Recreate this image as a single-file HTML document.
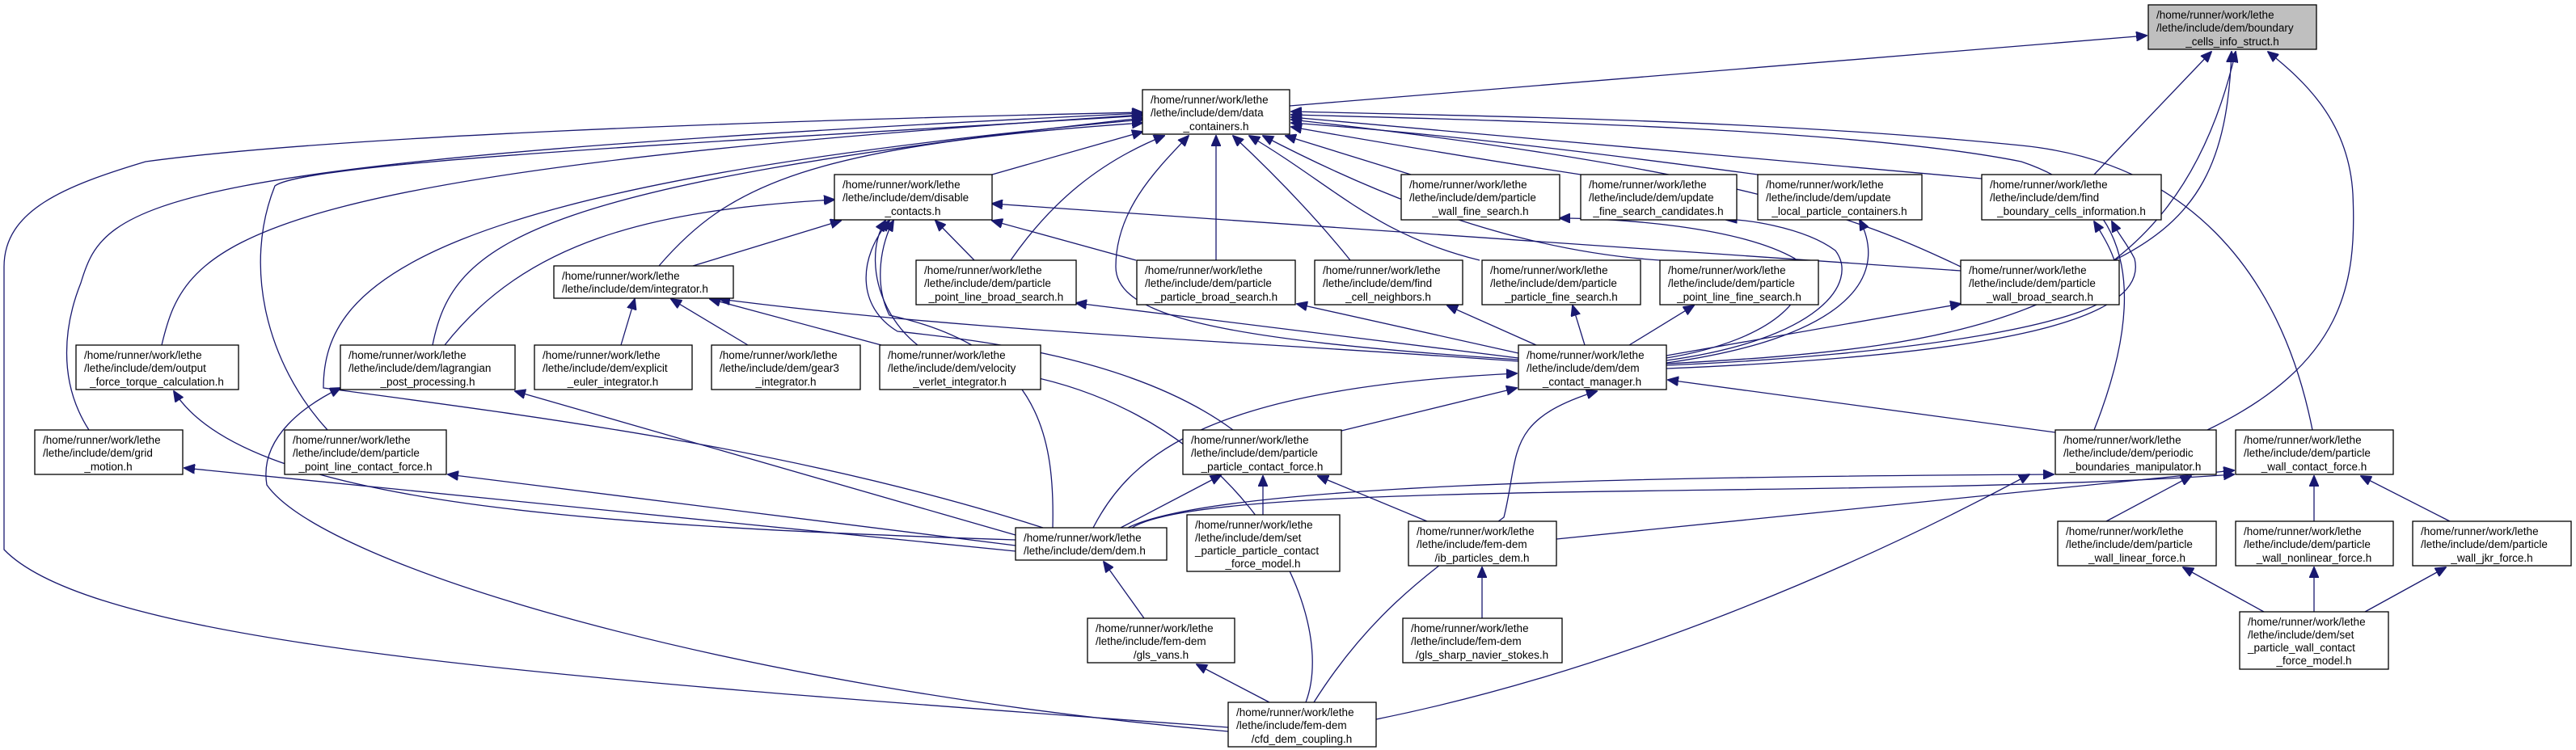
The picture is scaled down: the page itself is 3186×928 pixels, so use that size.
<!DOCTYPE html>
<html><head><meta charset="utf-8"><style>
html,body{margin:0;padding:0;background:#fff;}
svg{display:block;}
text{font-family:"Liberation Sans","DejaVu Sans",sans-serif;font-size:13.5px;fill:#000;}
.n rect{fill:#fff;stroke:#000;stroke-width:1.3;}
.e{fill:none;stroke:#191970;stroke-width:1.3;}
</style></head><body>
<svg width="3186" height="928" viewBox="0 0 3186 928" xmlns="http://www.w3.org/2000/svg">
<defs><marker id="a" markerUnits="userSpaceOnUse" markerWidth="14" markerHeight="12" refX="13" refY="6" orient="auto"><path d="M0,0 L14,6 L0,12 z" fill="#191970" stroke="#191970"/></marker></defs>

<g marker-end="url(#a)">
<!-- into boundary -->
<path class="e" d="M1595,131 L2655,44"/>
<path class="e" d="M2590,216 L2735,64"/>
<path class="e" d="M2615,322 C2720,270 2755,200 2760,64"/>
<path class="e" d="M2061,450 C2450,430 2690,390 2765,64"/>
<path class="e" d="M2730,532 C2900,450 2915,350 2910,240 C2905,150 2850,100 2805,64"/>
<!-- into data_containers -->
<path class="e" d="M1227,216 L1413,163"/>
<path class="e" d="M1250,322 C1300,250 1360,200 1440,168"/>
<path class="e" d="M1504,322 L1504,168"/>
<path class="e" d="M1670,322 C1620,260 1570,210 1525,168"/>
<path class="e" d="M1830,322 C1700,290 1650,230 1545,168"/>
<path class="e" d="M2053,322 C1870,310 1700,240 1562,168"/>
<path class="e" d="M1745,216 L1590,168"/>
<path class="e" d="M1955,216 C1850,200 1700,175 1597,157"/>
<path class="e" d="M2174,216 C1980,190 1780,165 1597,152"/>
<path class="e" d="M2425,330 C2300,270 2150,210 1597,148"/>
<path class="e" d="M2451,221 L1597,145"/>
<path class="e" d="M2590,532 C2650,380 2650,250 2500,200 C2300,160 1900,150 1597,142"/>
<path class="e" d="M2860,532 C2820,330 2700,200 2500,180 C2200,150 1900,145 1597,138"/>
<path class="e" d="M1878,445 C1500,420 1380,390 1380,330 C1380,260 1430,210 1470,168"/>
<path class="e" d="M815,329 C900,230 1000,180 1413,152"/>
<path class="e" d="M535,427 C560,300 650,230 1413,146"/>
<path class="e" d="M200,427 C230,300 280,215 1413,142"/>
<path class="e" d="M110,532 C70,470 80,400 100,350 C130,250 170,200 1413,140"/>
<path class="e" d="M405,532 C330,450 300,330 340,230 C380,200 900,175 1413,143"/>
<path class="e" d="M1290,653 C1000,560 700,520 400,480 C400,350 520,230 1413,148"/>
<path class="e" d="M1519,900 C700,840 120,800 5,680 L5,330 C5,260 80,230 180,200 C400,170 900,150 1413,139"/>
<!-- into disable_contacts -->
<path class="e" d="M857,329 L1040,273"/>
<path class="e" d="M550,427 C650,300 800,260 1032,247"/>
<path class="e" d="M1205,322 L1157,273"/>
<path class="e" d="M1405,322 L1227,273"/>
<path class="e" d="M2425,335 L1227,252"/>
<path class="e" d="M1302,653 C1305,530 1280,430 1100,390 C1080,350 1090,300 1105,273"/>
<path class="e" d="M1615,869 C1660,750 1520,480 1200,455 C1100,440 1060,330 1095,273"/>
<path class="e" d="M1525,532 C1400,440 1200,420 1110,410 C1060,380 1060,320 1100,273"/>
<!-- integrator -->
<path class="e" d="M768,427 L785,370"/>
<path class="e" d="M925,427 L830,370"/>
<path class="e" d="M1090,427 L878,370"/>
<path class="e" d="M1878,447 C1500,420 1200,410 890,370"/>
<!-- into contact_manager targets -->
<path class="e" d="M1878,443 L1331,375"/>
<path class="e" d="M1878,437 L1604,376"/>
<path class="e" d="M1900,427 L1790,378"/>
<path class="e" d="M1960,427 L1945,378"/>
<path class="e" d="M2015,427 L2095,378"/>
<path class="e" d="M2061,440 L2425,376"/>
<path class="e" d="M2061,443 C2200,420 2250,360 2220,320 C2150,280 2000,270 1929,270"/>
<path class="e" d="M2061,446 C2250,420 2300,350 2270,310 C2230,280 2150,270 2135,272"/>
<path class="e" d="M2061,449 C2270,420 2340,350 2300,272"/>
<path class="e" d="M2061,452 C2350,440 2620,400 2620,350 C2620,320 2600,290 2590,274"/>
<path class="e" d="M2061,456 C2450,440 2660,400 2640,320 C2630,300 2620,290 2612,274"/>
<!-- into contact_manager -->
<path class="e" d="M1352,653 C1400,560 1500,480 1876,462"/>
<path class="e" d="M1659,533 L1876,480"/>
<path class="e" d="M1625,869 C1700,750 1780,700 1860,640 C1880,560 1860,520 1975,484"/>
<path class="e" d="M2542,535 L2063,470"/>
<!-- into dem includes -->
<path class="e" d="M1256,682 L228,579"/>
<path class="e" d="M1256,675 L554,587"/>
<path class="e" d="M1256,668 C700,650 300,620 215,484"/>
<path class="e" d="M1256,662 L637,484"/>
<path class="e" d="M1386,653 L1510,588"/>
<path class="e" d="M1395,653 C1500,600 2000,590 2540,587"/>
<path class="e" d="M1400,653 C1500,590 2300,620 2763,587"/>
<!-- others -->
<path class="e" d="M1415,765 L1365,695"/>
<path class="e" d="M1570,869 L1480,822"/>
<path class="e" d="M1702,890 C2000,830 2300,700 2510,587"/>
<path class="e" d="M1519,905 C900,850 400,700 330,600 C320,540 380,500 421,480"/>
<path class="e" d="M1562,637 L1562,589"/>
<path class="e" d="M1765,645 L1630,589"/>
<path class="e" d="M1925,667 L2763,582"/>
<path class="e" d="M1833,765 L1833,702"/>
<path class="e" d="M2605,645 L2710,589"/>
<path class="e" d="M2862,645 L2862,589"/>
<path class="e" d="M3030,645 L2920,589"/>
<path class="e" d="M2800,757 L2700,702"/>
<path class="e" d="M2862,757 L2862,702"/>
<path class="e" d="M2925,757 L3025,702"/>
</g>

<!-- nodes -->
<g class="n">
<rect x="2657" y="6" width="208" height="55" style="fill:#bfbfbf"/>
<text x="2667" y="23">/home/runner/work/lethe</text><text x="2667" y="39">/lethe/include/dem/boundary</text><text x="2761" y="56" text-anchor="middle">_cells_info_struct.h</text>

<rect x="1413" y="111" width="182" height="55"/>
<text x="1423" y="128">/home/runner/work/lethe</text><text x="1423" y="144">/lethe/include/dem/data</text><text x="1504" y="161" text-anchor="middle">_containers.h</text>

<rect x="1032" y="216" width="195" height="56"/>
<text x="1042" y="233">/home/runner/work/lethe</text><text x="1042" y="249">/lethe/include/dem/disable</text><text x="1129" y="266" text-anchor="middle">_contacts.h</text>

<rect x="1733" y="216" width="196" height="56"/>
<text x="1743" y="233">/home/runner/work/lethe</text><text x="1743" y="249">/lethe/include/dem/particle</text><text x="1831" y="266" text-anchor="middle">_wall_fine_search.h</text>

<rect x="1955" y="216" width="193" height="56"/>
<text x="1965" y="233">/home/runner/work/lethe</text><text x="1965" y="249">/lethe/include/dem/update</text><text x="2051" y="266" text-anchor="middle">_fine_search_candidates.h</text>

<rect x="2174" y="216" width="203" height="56"/>
<text x="2184" y="233">/home/runner/work/lethe</text><text x="2184" y="249">/lethe/include/dem/update</text><text x="2275" y="266" text-anchor="middle">_local_particle_containers.h</text>

<rect x="2451" y="216" width="222" height="56"/>
<text x="2461" y="233">/home/runner/work/lethe</text><text x="2461" y="249">/lethe/include/dem/find</text><text x="2562" y="266" text-anchor="middle">_boundary_cells_information.h</text>

<rect x="685" y="329" width="222" height="40"/>
<text x="695" y="346">/home/runner/work/lethe</text><text x="695" y="362">/lethe/include/dem/integrator.h</text>

<rect x="1133" y="322" width="198" height="55"/>
<text x="1143" y="339">/home/runner/work/lethe</text><text x="1143" y="355">/lethe/include/dem/particle</text><text x="1232" y="372" text-anchor="middle">_point_line_broad_search.h</text>

<rect x="1406" y="322" width="196" height="55"/>
<text x="1416" y="339">/home/runner/work/lethe</text><text x="1416" y="355">/lethe/include/dem/particle</text><text x="1504" y="372" text-anchor="middle">_particle_broad_search.h</text>

<rect x="1626" y="322" width="183" height="55"/>
<text x="1636" y="339">/home/runner/work/lethe</text><text x="1636" y="355">/lethe/include/dem/find</text><text x="1717" y="372" text-anchor="middle">_cell_neighbors.h</text>

<rect x="1833" y="322" width="196" height="55"/>
<text x="1843" y="339">/home/runner/work/lethe</text><text x="1843" y="355">/lethe/include/dem/particle</text><text x="1931" y="372" text-anchor="middle">_particle_fine_search.h</text>

<rect x="2053" y="322" width="196" height="55"/>
<text x="2063" y="339">/home/runner/work/lethe</text><text x="2063" y="355">/lethe/include/dem/particle</text><text x="2151" y="372" text-anchor="middle">_point_line_fine_search.h</text>

<rect x="2425" y="322" width="196" height="55"/>
<text x="2435" y="339">/home/runner/work/lethe</text><text x="2435" y="355">/lethe/include/dem/particle</text><text x="2523" y="372" text-anchor="middle">_wall_broad_search.h</text>

<rect x="94" y="427" width="201" height="55"/>
<text x="104" y="444">/home/runner/work/lethe</text><text x="104" y="460">/lethe/include/dem/output</text><text x="194" y="477" text-anchor="middle">_force_torque_calculation.h</text>

<rect x="421" y="427" width="216" height="55"/>
<text x="431" y="444">/home/runner/work/lethe</text><text x="431" y="460">/lethe/include/dem/lagrangian</text><text x="529" y="477" text-anchor="middle">_post_processing.h</text>

<rect x="661" y="427" width="195" height="55"/>
<text x="671" y="444">/home/runner/work/lethe</text><text x="671" y="460">/lethe/include/dem/explicit</text><text x="758" y="477" text-anchor="middle">_euler_integrator.h</text>

<rect x="880" y="427" width="184" height="55"/>
<text x="890" y="444">/home/runner/work/lethe</text><text x="890" y="460">/lethe/include/dem/gear3</text><text x="972" y="477" text-anchor="middle">_integrator.h</text>

<rect x="1088" y="427" width="199" height="55"/>
<text x="1098" y="444">/home/runner/work/lethe</text><text x="1098" y="460">/lethe/include/dem/velocity</text><text x="1187" y="477" text-anchor="middle">_verlet_integrator.h</text>

<rect x="1878" y="427" width="183" height="55"/>
<text x="1888" y="444">/home/runner/work/lethe</text><text x="1888" y="460">/lethe/include/dem/dem</text><text x="1969" y="477" text-anchor="middle">_contact_manager.h</text>

<rect x="43" y="532" width="183" height="55"/>
<text x="53" y="549">/home/runner/work/lethe</text><text x="53" y="565">/lethe/include/dem/grid</text><text x="134" y="582" text-anchor="middle">_motion.h</text>

<rect x="352" y="532" width="200" height="55"/>
<text x="362" y="549">/home/runner/work/lethe</text><text x="362" y="565">/lethe/include/dem/particle</text><text x="452" y="582" text-anchor="middle">_point_line_contact_force.h</text>

<rect x="1463" y="532" width="196" height="55"/>
<text x="1473" y="549">/home/runner/work/lethe</text><text x="1473" y="565">/lethe/include/dem/particle</text><text x="1561" y="582" text-anchor="middle">_particle_contact_force.h</text>

<rect x="2542" y="532" width="199" height="55"/>
<text x="2552" y="549">/home/runner/work/lethe</text><text x="2552" y="565">/lethe/include/dem/periodic</text><text x="2641" y="582" text-anchor="middle">_boundaries_manipulator.h</text>

<rect x="2765" y="532" width="195" height="55"/>
<text x="2775" y="549">/home/runner/work/lethe</text><text x="2775" y="565">/lethe/include/dem/particle</text><text x="2862" y="582" text-anchor="middle">_wall_contact_force.h</text>

<rect x="1256" y="653" width="187" height="40"/>
<text x="1266" y="670">/home/runner/work/lethe</text><text x="1266" y="686">/lethe/include/dem/dem.h</text>

<rect x="1468" y="637" width="189" height="70"/>
<text x="1478" y="654">/home/runner/work/lethe</text><text x="1478" y="670">/lethe/include/dem/set</text><text x="1478" y="686">_particle_particle_contact</text><text x="1562" y="702" text-anchor="middle">_force_model.h</text>

<rect x="1742" y="645" width="183" height="55"/>
<text x="1752" y="662">/home/runner/work/lethe</text><text x="1752" y="678">/lethe/include/fem-dem</text><text x="1833" y="695" text-anchor="middle">/ib_particles_dem.h</text>

<rect x="2545" y="645" width="196" height="55"/>
<text x="2555" y="662">/home/runner/work/lethe</text><text x="2555" y="678">/lethe/include/dem/particle</text><text x="2643" y="695" text-anchor="middle">_wall_linear_force.h</text>

<rect x="2765" y="645" width="195" height="55"/>
<text x="2775" y="662">/home/runner/work/lethe</text><text x="2775" y="678">/lethe/include/dem/particle</text><text x="2862" y="695" text-anchor="middle">_wall_nonlinear_force.h</text>

<rect x="2984" y="645" width="196" height="55"/>
<text x="2994" y="662">/home/runner/work/lethe</text><text x="2994" y="678">/lethe/include/dem/particle</text><text x="3082" y="695" text-anchor="middle">_wall_jkr_force.h</text>

<rect x="2770" y="757" width="184" height="71"/>
<text x="2780" y="774">/home/runner/work/lethe</text><text x="2780" y="790">/lethe/include/dem/set</text><text x="2780" y="806">_particle_wall_contact</text><text x="2862" y="822" text-anchor="middle">_force_model.h</text>

<rect x="1345" y="765" width="182" height="55"/>
<text x="1355" y="782">/home/runner/work/lethe</text><text x="1355" y="798">/lethe/include/fem-dem</text><text x="1436" y="815" text-anchor="middle">/gls_vans.h</text>

<rect x="1735" y="765" width="197" height="55"/>
<text x="1745" y="782">/home/runner/work/lethe</text><text x="1745" y="798">/lethe/include/fem-dem</text><text x="1833" y="815" text-anchor="middle">/gls_sharp_navier_stokes.h</text>

<rect x="1519" y="869" width="183" height="55"/>
<text x="1529" y="886">/home/runner/work/lethe</text><text x="1529" y="902">/lethe/include/fem-dem</text><text x="1610" y="919" text-anchor="middle">/cfd_dem_coupling.h</text>
</g>
</svg>
</body></html>
